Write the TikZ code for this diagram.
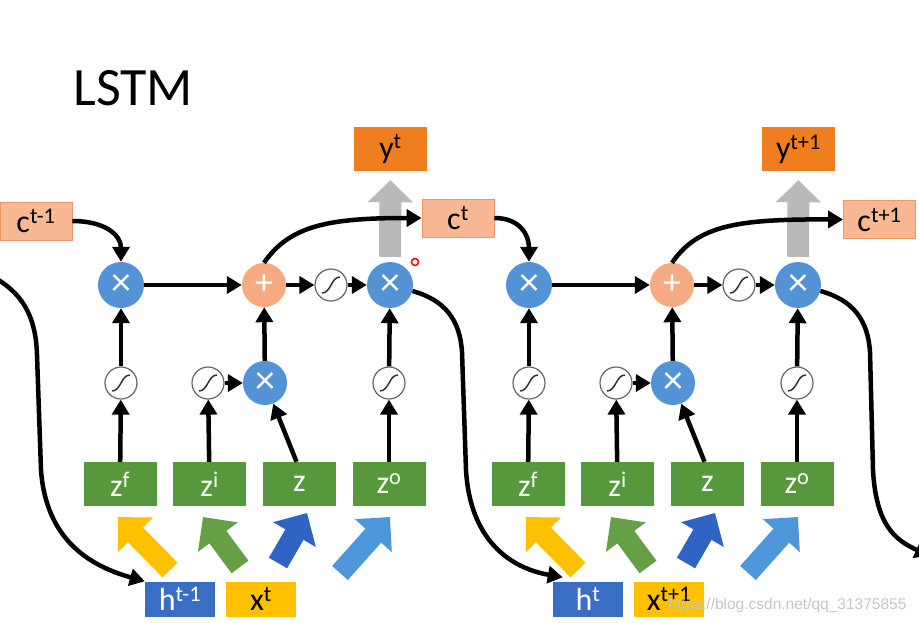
\documentclass[tikz,border=0pt]{standalone}
\usepackage{fontspec}
\setmainfont{Carlito}
\newfontfamily\wmfont{Liberation Sans}
\usetikzlibrary{calc,arrows.meta}
\definecolor{cellc}{RGB}{248,184,148}
\definecolor{celld}{RGB}{240,150,100}
\definecolor{outy}{RGB}{240,125,30}
\definecolor{gateb}{RGB}{82,146,213}
\definecolor{addc}{RGB}{245,170,130}
\definecolor{zgreen}{RGB}{88,152,60}
\definecolor{hblue}{RGB}{58,110,196}
\definecolor{xgold}{RGB}{255,192,0}
\definecolor{agreen}{RGB}{102,160,70}
\definecolor{ablue}{RGB}{48,100,196}
\definecolor{alight}{RGB}{78,150,220}
\tikzset{
  lab/.style={font=\fontsize{32}{34}\selectfont, inner sep=0pt},
  cbox/.style={lab, draw=celld, line width=0.8pt, fill=cellc, minimum width=72pt, minimum height=38pt},
  ybox/.style={lab, fill=outy, minimum width=73pt, minimum height=44pt},
  zbox/.style={lab, fill=zgreen, text=white, minimum width=73pt, minimum height=44pt},
  hbox/.style={lab, fill=hblue, text=white, minimum width=70pt, minimum height=35pt},
  xbox/.style={lab, fill=xgold, minimum width=70pt, minimum height=35pt},
  mul/.style={circle, fill=gateb, text=white, minimum size=46pt, inner sep=0pt, font=\fontsize{40}{40}\selectfont},
  addnode/.style={circle, fill=addc, text=white, minimum size=44pt, inner sep=0pt, font=\fontsize{36}{36}\selectfont},
  sig/.style={circle, draw=black!60, fill=white, line width=1.2pt, minimum size=32pt, inner sep=0pt,
    path picture={\draw[line width=1.5pt, black!80]
      ([shift={(-9pt,-8pt)}]path picture bounding box.center) .. controls +(9pt,0pt) and +(-9pt,0pt) ..
      ([shift={(9pt,8pt)}]path picture bounding box.center);}},
  wire/.style={line width=4.5pt, -{Triangle[length=15pt,width=17pt]}},
  fat/.style={line width=21pt, -{Triangle[length=25pt,width=48pt]}},
}
\begin{document}
\begin{tikzpicture}[x=1pt,y=-1pt]
      \fill[white] (0,0) rectangle (919,622);
      \useasboundingbox (0,0) rectangle (919,622);
      \node[anchor=base west, font=\fontsize{54}{60}\selectfont] (title) at (70,105) {LSTM};
      % cell state boxes
      \node[cbox] (c0) at (36,221) {c\textsuperscript{t-1}};
      \node[cbox] (c1) at (458,218) {c\textsuperscript{t}};
      \node[cbox] (c2) at (879.5,219.5) {c\textsuperscript{t+1}};
      \foreach \i/\dx/\hl/\xl/\yl in {1/0/t-1/t/t, 2/408/t/t+1/t+1}{
        \node[mul] (mf\i) at (\dx+121,285) {×};
        \node[addnode] (add\i) at (\dx+264,285) {+};
        \node[sig] (th\i) at (\dx+331,285) {};
        \node[mul] (mo\i) at (\dx+390,285) {×};
        \node[sig] (sf\i) at (\dx+121,383) {};
        \node[sig] (si\i) at (\dx+208,383) {};
        \node[mul, minimum size=44pt] (mi\i) at (\dx+265,383) {×};
        \node[sig] (so\i) at (\dx+389,383) {};
        \node[zbox] (zf\i) at (\dx+120,484) {z\textsuperscript{f}};
        \node[zbox] (zi\i) at (\dx+209.5,484) {z\textsuperscript{i}};
        \node[zbox] (z\i) at (\dx+299.5,484) {z};
        \node[zbox] (zo\i) at (\dx+389,484) {z\textsuperscript{o}};
        \node[ybox] (y\i) at (\dx+390.5,149) {y\textsuperscript{\yl}};
        \node[hbox] (h\i) at (\dx+180,599) {h\textsuperscript{\hl}};
        \node[xbox] (x\i) at (\dx+261,599) {x\textsuperscript{\xl}};
        % inputs into the four blocks
        \draw[fat, xgold] (\dx+170,570) -- (\dx+118,517);
        \draw[fat, agreen] (\dx+240,567) -- (\dx+203,517);
        \draw[fat, ablue] (\dx+278,563) -- (\dx+307,513);
        \draw[fat, alight] (\dx+340,573) -- (\dx+390,517);
        \draw[line width=22pt, gray!55, -{Triangle[length=22pt,width=44pt]}]
          ([yshift=5pt]mo\i.north) -- ([yshift=-9pt]y\i.south);
        \draw[wire] (zf\i) -- (sf\i);
        \draw[wire] (sf\i) -- (mf\i);
        \draw[wire] (zi\i) -- (si\i);
        \draw[wire] (si\i) -- (mi\i);
        \draw[wire] ([xshift=-3pt]z\i.north) -- (mi\i);
        \draw[wire] (mi\i) -- (add\i);
        \draw[wire] (zo\i) -- (so\i);
        \draw[wire] (so\i) -- (mo\i);
        \draw[wire] (mf\i) -- (add\i);
        \draw[wire] (add\i) -- (th\i);
        \draw[wire] (th\i) -- (mo\i);
      }
      % cell state and hidden state links
      \coordinate (in1) at (-5,278);
      \coordinate (out2) at (930,556);
      \draw[wire] (c0.east) .. controls (105,221) and (121,235) .. (mf1.north);
      \draw[wire] (add1.north) .. controls (290,225) and (330,218) .. (c1.west);
      \draw[wire] (c1.east) .. controls (520,218) and (529,235) .. (mf2.north);
      \draw[wire] (add2.north) .. controls (698,225) and (738,219) .. (c2.west);
      \draw[wire] (in1) .. controls (25,295) and (36,320) .. (37,355) -- (41,470)
        .. controls (46,540) and (90,566) .. (h1.north west);
      \draw[wire] (mo1.-15) .. controls (445,300) and (460,320) .. (462,352) -- (466,470)
        .. controls (470,540) and (510,568) .. ([xshift=10pt,yshift=4pt]h2.north west);
      \draw[wire] (mo2.-15) .. controls (853,300) and (868,320) .. (870,352) -- (873,470)
        .. controls (876,525) and (895,540) .. (out2);
      \draw[red, line width=1.5pt] (415,262) circle (3.5pt);
      \node[anchor=base west, font=\wmfont\fontsize{15.5}{17}\selectfont, text=gray!45] (wm) at (665,609) {https://blog.csdn.net/qq\_31375855};
    \end{tikzpicture}
\end{document}
